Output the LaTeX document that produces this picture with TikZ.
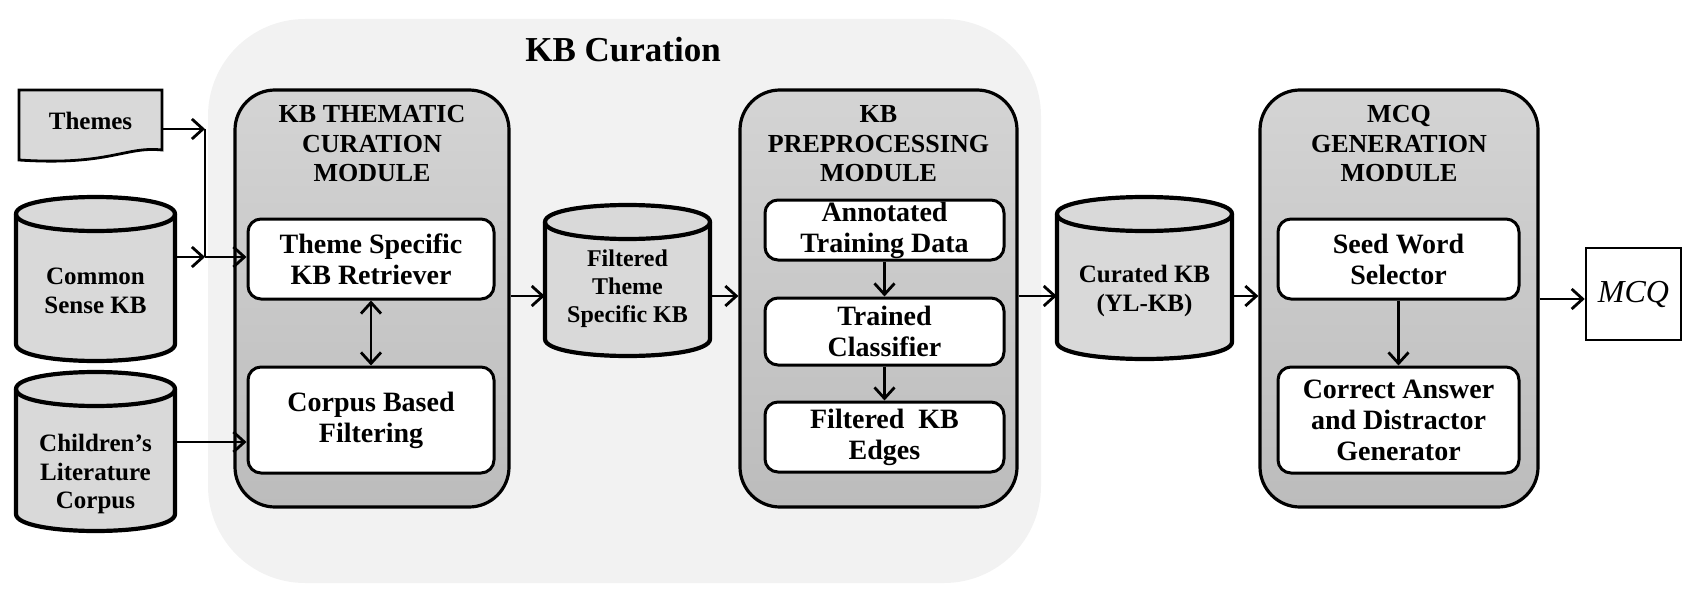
\documentclass[tikz,border=0pt]{standalone}
\usepackage{fontspec}
\setmainfont{Liberation Serif}
\usetikzlibrary{arrows.meta}
\definecolor{bgc}{RGB}{242,242,242}
\definecolor{modtop}{RGB}{212,212,212}
\definecolor{modbot}{RGB}{188,188,188}
\definecolor{cylc}{RGB}{217,217,217}
% cylinder outline: x1, top, x2, bottom, end radius
\newcommand{\dbcyl}[5]{%
  \path[cyl] (#1,#2+#5) -- (#1,#4-#5)
     .. controls (#1,#4+0.333*#5) and (#3,#4+0.333*#5) .. (#3,#4-#5)
     -- (#3,#2+#5)
     .. controls (#3,#2-0.333*#5) and (#1,#2-0.333*#5) .. cycle;
  \draw[cylline] (#1,#2+#5) .. controls (#1,#2+2.333*#5) and (#3,#2+2.333*#5) .. (#3,#2+#5);
}
\begin{document}
\begin{tikzpicture}[x=1pt,y=-1pt,
  module/.style={draw, line width=3.2pt, rounded corners=40pt, top color=modtop, bottom color=modbot, inner sep=0pt},
  ibox/.style={draw, line width=3pt, rounded corners=13pt, fill=white, align=center, inner sep=0pt,
               font=\fontsize{28}{31}\selectfont\bfseries},
  mtitle/.style={align=center, inner sep=0pt, font=\fontsize{26}{29.5}\selectfont\bfseries},
  cyl/.style={fill=cylc, draw, line width=4.2pt},
  cylline/.style={line width=4.2pt},
  ctext/.style={align=center, inner sep=0pt, font=\fontsize{25}{28.5}\selectfont\bfseries},
  arr/.style={line width=2.8pt, -{Straight Barb[length=11pt,width=20pt]}},
  darr/.style={line width=2.8pt, {Straight Barb[length=11pt,width=20pt]}-{Straight Barb[length=11pt,width=20pt]}},
  plain/.style={line width=2.8pt}
]
\useasboundingbox (0,0) rectangle (1692,594);

% background group
\node[fill=bgc, rounded corners=97pt, minimum width=833pt, minimum height=564pt, inner sep=0pt] (curation) at (624.5,301) {};
\node[font=\fontsize{35}{40}\selectfont\bfseries] (kbc) at (623,50) {KB Curation};

% inputs
\path[fill=cylc, draw, line width=2.8pt] (19,90) -- (162,90) -- (162,150)
   .. controls (125,146) and (110,166) .. (19,160) -- cycle;
\node[font=\fontsize{25}{28}\selectfont\bfseries, minimum width=143pt, inner sep=0pt] (themes) at (90.5,121) {Themes};

\dbcyl{16}{197}{175}{361}{17}
\node[ctext, minimum width=159pt] (cs) at (95.5,291) {Common\\Sense KB};

\dbcyl{16}{372}{175}{531}{17}
\node[ctext, minimum width=159pt] (child) at (95.5,474) {Children’s\\Literature\\Corpus};

% thematic module
\node[module, minimum width=274pt, minimum height=417pt] (thematic) at (372,298.5) {};
\node[mtitle] (thtitle) at (372,144) {KB THEMATIC\\CURATION\\MODULE};
\node[ibox, minimum width=246pt, minimum height=80pt] (retr) at (371,259) {Theme Specific\\KB Retriever};
\node[ibox, minimum width=246pt, minimum height=106pt] (corpus) at (371,420) {Corpus Based\\Filtering};

% filtered theme specific kb
\dbcyl{545}{205}{710}{356}{17}
\node[ctext, minimum width=165pt, font=\fontsize{24}{28}\selectfont\bfseries] (filt) at (627.5,289) {Filtered\\Theme\\Specific KB};

% preprocessing module
\node[module, minimum width=277pt, minimum height=417pt] (prep) at (878.5,298.5) {};
\node[mtitle] (prtitle) at (878.5,144) {KB\\PREPROCESSING\\MODULE};
\node[ibox, minimum width=239pt, minimum height=60pt] (annot) at (884.5,230) {Annotated\\Training Data};
\node[ibox, minimum width=239pt, minimum height=67pt] (trained) at (884.5,331.5) {Trained\\Classifier};
\node[ibox, minimum width=239pt, minimum height=70pt] (edges) at (884.5,437) {Filtered~ KB\\Edges};

% curated kb
\dbcyl{1057}{197}{1232}{359}{17}
\node[ctext, minimum width=175pt] (cur) at (1144.5,291) {Curated KB\\(YL-KB)};

% mcq module
\node[module, minimum width=278pt, minimum height=417pt] (mcqmod) at (1399,298.5) {};
\node[mtitle] (mctitle) at (1399,144) {MCQ\\GENERATION\\MODULE};
\node[ibox, minimum width=241pt, minimum height=80pt] (seed) at (1398.5,259) {Seed Word\\Selector};
\node[ibox, minimum width=241pt, minimum height=106pt] (correct) at (1398.5,420) {Correct Answer\\and Distractor\\Generator};

% output
\node[draw, line width=2.5pt, fill=white, minimum width=95pt, minimum height=92pt, inner sep=0pt,
      font=\fontsize{32}{36}\selectfont\itshape] (mcq) at (1633.5,294) {MCQ};

% connectors
\coordinate (j1) at (205,129);
\coordinate (j2) at (205,257);
\coordinate (c3) at (0,442);
\coordinate (flow) at (0,296);
\coordinate (flow2) at (0,299);
\draw[arr] (themes.east |- j1) -- (j1);
\draw[plain] (j1) -- (j2);
\draw[arr] (cs.east |- j2) -- (j2);
\draw[arr] (j2) -- (retr.west |- j2);
\draw[arr] (child.east |- c3) -- (corpus.west |- c3);
\draw[darr] (retr.south) -- (corpus.north);
\draw[arr] (thematic.east |- flow) -- (filt.west |- flow);
\draw[arr] (filt.east |- flow) -- (prep.west |- flow);
\draw[arr] (annot.south) -- (trained.north);
\draw[arr] (trained.south) -- (edges.north);
\draw[arr] (prep.east |- flow) -- (cur.west |- flow);
\draw[arr] (cur.east |- flow) -- (mcqmod.west |- flow);
\draw[arr] (seed.south) -- (correct.north);
\draw[arr] (mcqmod.east |- flow2) -- (mcq.west |- flow2);
\end{tikzpicture}
\end{document}
